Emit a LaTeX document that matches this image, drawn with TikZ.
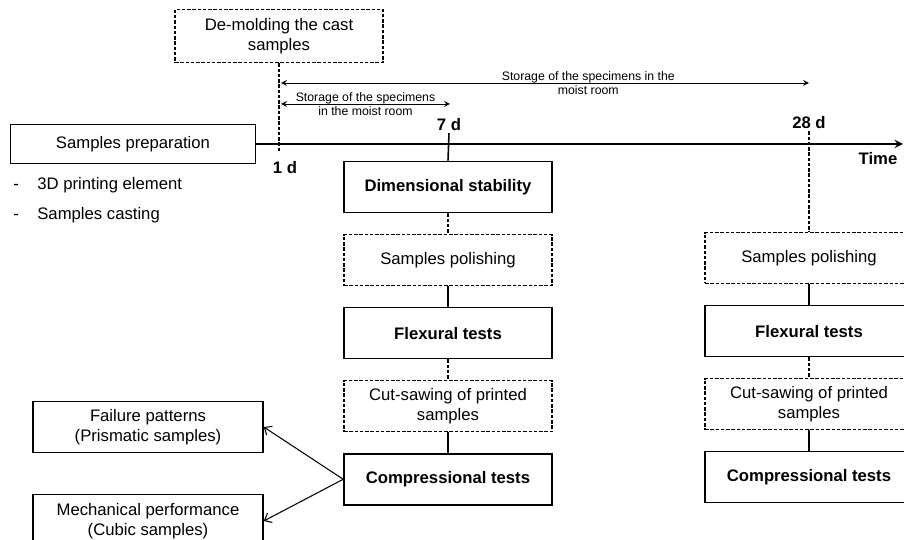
\documentclass[tikz,border=0pt]{standalone}
\usepackage{fontspec}
\setmainfont{Liberation Sans}
\usetikzlibrary{arrows,arrows.meta,positioning}

\begin{document}
\begin{tikzpicture}[>=stealth,x=0.02cm,y=-0.02cm]
    \tikzstyle{box}=[rectangle,draw=black,line width=0.9pt,font=\fontsize{9.5}{11.6}\selectfont,
    inner sep=0pt,align=center,minimum width=4.16cm,minimum height=1.02cm]
    \tikzstyle{dbox}=[box,dash pattern=on 2pt off 1pt]
    \tikzstyle{res}=[box,minimum width=4.6cm]
    \tikzstyle{day}=[font=\fontsize{9.5}{11.6}\selectfont\bfseries,inner sep=1pt]
    \tikzstyle{txt}=[font=\fontsize{9.5}{11.6}\selectfont,inner sep=0pt]
    \tikzstyle{store}=[font=\fontsize{7}{8.3}\selectfont,align=center,inner sep=0pt]
    \tikzstyle{link}=[line width=0.9pt]
    \tikzstyle{dlink}=[link,dash pattern=on 2pt off 1pt]

    \useasboundingbox (0,0) rectangle (904,540);
    \clip (0,0) rectangle (904,540);

    \node[box,minimum width=4.9cm,minimum height=0.78cm](prep) at (133,144){Samples preparation};
    \node[txt,anchor=base west](bul_print) at (13,190){-\hspace{10.5pt}3D printing element};
    \node[txt,anchor=base west](bul_cast) at (13,220){-\hspace{10.5pt}Samples casting};
    \node[dbox,minimum height=1.06cm](demold) at (279,36){De-molding the cast\\samples};

    \coordinate (t_end) at (903,144);
    \coordinate (t_1) at (279,151);
    \node[day](d1) at (285,168){1 d};
    \node[day](d7) at (449,125){7 d};
    \node[day](d28) at (809,123){28 d};
    \node[day](time) at (878,159){Time};

    \coordinate (long_a) at (281,83);
    \coordinate (long_b) at (809,83);
    \coordinate (short_a) at (281,104);
    \coordinate (short_b) at (450,104);

    % 7 days
    \node[box,font=\fontsize{9.5}{11.6}\selectfont\bfseries](dim_7) at (448,187){Dimensional stability};
    \node[dbox](pol_7)[below=0.41cm of dim_7]{Samples polishing};
    \node[box,font=\fontsize{9.5}{11.6}\selectfont\bfseries](flex_7)[below=0.41cm of pol_7]{Flexural tests};
    \node[dbox](cut_7)[below=0.41cm of flex_7]{Cut-sawing of printed\\samples};
    \node[box,font=\fontsize{9.5}{11.6}\selectfont\bfseries](comp_7)[below=0.41cm of cut_7]{Compressional tests};

    % 28 days
    \node[dbox](pol_28) at (809,258){Samples polishing};
    \node[box,font=\fontsize{9.5}{11.6}\selectfont\bfseries](flex_28)[below=0.41cm of pol_28]{Flexural tests};
    \node[dbox](cut_28)[below=0.41cm of flex_28]{Cut-sawing of printed\\samples};
    \node[box,font=\fontsize{9.5}{11.6}\selectfont\bfseries](comp_28)[below=0.41cm of cut_28]{Compressional tests};

    \node[res](fail) at (148,427){Failure patterns\\(Prismatic samples)};
    \node[res,minimum height=1.06cm](mech) at (148,521){Mechanical performance\\(Cubic samples)};

    \draw[->,line width=1.1pt] (prep.east) -- (t_end);
    \draw[dlink] (demold.south) -- (t_1);
    \draw[link] (d7.south) -- (dim_7.north);
    \draw[dlink] (d28.south) -- (pol_28.north);

    \draw[<->,line width=0.5pt] (long_a) -- (long_b)
      node[store,pos=0.582]{Storage of the specimens in the\\moist room};
    \draw[<->,line width=0.5pt] (short_a) -- (short_b)
      node[store,pos=0.5]{Storage of the specimens\\in the moist room};

    \draw[dlink] (dim_7) -- (pol_7);
    \draw[link] (pol_7) -- (flex_7);
    \draw[dlink] (flex_7) -- (cut_7);
    \draw[link] (cut_7) -- (comp_7);

    \draw[link] (pol_28) -- (flex_28);
    \draw[dlink] (flex_28) -- (cut_28);
    \draw[link] (cut_28) -- (comp_28);

    \draw[-{Straight Barb[length=3.5pt,width=6pt]},line width=0.6pt] (comp_7.west) -- (fail.east);
    \draw[-{Straight Barb[length=3.5pt,width=6pt]},line width=0.6pt] (comp_7.west) -- (mech.east);
  \end{tikzpicture}
\end{document}
